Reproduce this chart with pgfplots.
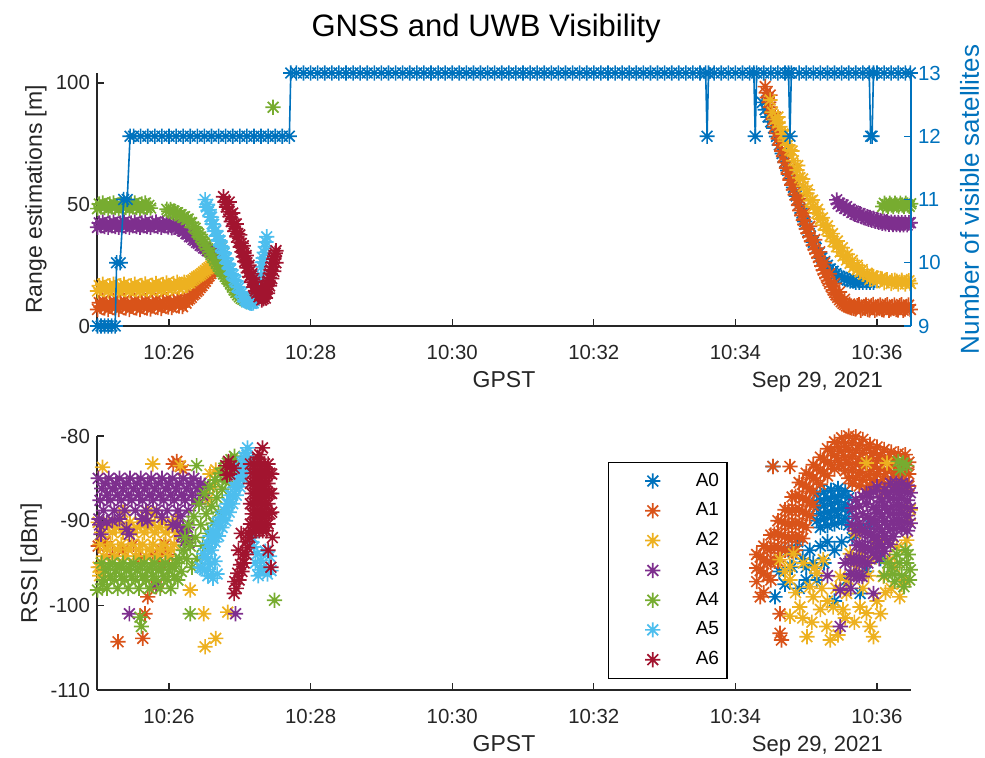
\documentclass[border=0pt]{standalone}
\usepackage{pgfplots}
\pgfplotsset{compat=1.18}
\usepackage{fontspec}
\setmainfont{Liberation Sans}
\definecolor{c0}{RGB}{0,114,189}
\definecolor{c1}{RGB}{217,83,25}
\definecolor{c2}{RGB}{237,177,32}
\definecolor{c3}{RGB}{126,47,142}
\definecolor{c4}{RGB}{119,172,48}
\definecolor{c5}{RGB}{77,190,238}
\definecolor{c6}{RGB}{162,20,47}
\definecolor{axc}{RGB}{38,38,38}
\pgfdeclareplotmark{mstar}{%
  \pgfpathmoveto{\pgfqpoint{-\pgfplotmarksize}{0pt}}%
  \pgfpathlineto{\pgfqpoint{\pgfplotmarksize}{0pt}}%
  \pgfpathmoveto{\pgfqpoint{0pt}{-\pgfplotmarksize}}%
  \pgfpathlineto{\pgfqpoint{0pt}{\pgfplotmarksize}}%
  \pgfpathmoveto{\pgfqpoint{-0.7071\pgfplotmarksize}{-0.7071\pgfplotmarksize}}%
  \pgfpathlineto{\pgfqpoint{0.7071\pgfplotmarksize}{0.7071\pgfplotmarksize}}%
  \pgfpathmoveto{\pgfqpoint{-0.7071\pgfplotmarksize}{0.7071\pgfplotmarksize}}%
  \pgfpathlineto{\pgfqpoint{0.7071\pgfplotmarksize}{-0.7071\pgfplotmarksize}}%
  \pgfusepathqstroke}
\pgfplotsset{
  ser/.style={only marks, mark=mstar, mark size=3.8pt, line width=0.85pt, color=#1,
    legend image code/.code={\path[draw=none,fill=none] (0pt,-3pt) rectangle (39.5pt,3pt); \draw[##1] plot coordinates {(18pt,0pt)};}},
  base/.style={scale only axis, width=407pt, clip=false, xmin=24.983, xmax=36.48,
    tick align=inside, major tick length=3.5pt,
    axis line style={axc, line width=0.6pt}, tick style={axc, line width=0.6pt},
    every tick label/.append style={font=\fontsize{10.2}{12}\selectfont, text=axc},
    label style={font=\fontsize{11.5}{13}\selectfont, text=axc}},
}
\begin{document}
\begin{tikzpicture}
\useasboundingbox (-48.5pt,-216pt) rectangle (444pt,163pt);
% ---------------- top axis (left: range) ----------------
\begin{axis}[base, at={(0pt,0pt)}, anchor=south west, height=126.5pt, ymin=0, ymax=104.1,
  axis x line*=bottom, axis y line*=left,
  xtick={26,28,30,32,34,36}, xticklabels={10:26,10:28,10:30,10:32,10:34,10:36},
  xticklabel style={anchor=base, yshift=-17pt},
  ytick={0,50,100}, yticklabels={0,50,100},
  xlabel={GPST}, xlabel style={at={(axis description cs:0.5,0)}, anchor=base, yshift=-31pt},
  ylabel={Range estimations [m]}, ylabel style={at={(axis description cs:-0.0676,0.5)}, anchor=base},
  title={GNSS and UWB Visibility}, title style={at={(0.478,1)}, anchor=base, yshift=12pt, font=\fontsize{15.5}{18}\selectfont, text=black}]
\addplot[ser=c0] coordinates {(34.38,92)(34.42,89)(34.46,86)(34.50,84)(34.54,81.5)(34.58,78)(34.62,74.5)(34.66,71)(34.70,67.5)(34.74,64)(34.78,60.5)(34.82,57)(34.86,53.5)(34.90,50)(34.94,46.5)(34.98,43)(35.02,40)(35.06,37)(35.10,34.5)(35.14,32)(35.18,30)(35.22,28)(35.26,26.5)(35.30,25)(35.34,23.5)(35.38,22.5)(35.42,21.5)(35.46,20.5)(35.50,20)(35.54,19.5)(35.58,19)(35.62,18.5)(35.66,18.5)(35.70,18)(35.75,18)(35.80,18)(35.85,18)(35.90,18)(35.95,18)};
\addplot[ser=c1] coordinates {(24.990,6.8)(25.015,9.6)(25.040,8.0)(25.065,10.4)(25.090,7.4)(25.115,9.0)(25.140,6.8)(25.165,9.6)(25.190,8.0)(25.215,10.4)(25.240,7.4)(25.265,9.0)(25.290,6.8)(25.315,9.6)(25.340,8.0)(25.365,10.4)(25.390,7.4)(25.415,9.0)(25.440,6.8)(25.465,9.6)(25.490,8.0)(25.515,10.4)(25.540,7.4)(25.565,9.0)(25.590,6.8)(25.615,9.6)(25.640,8.0)(25.665,10.4)(25.690,7.4)(25.715,9.0)(25.740,7.0)(25.765,9.8)(25.790,8.2)(25.815,10.6)(25.840,7.6)(25.865,9.2)(25.890,7.2)(25.915,10.0)(25.940,8.4)(25.965,10.8)(25.990,7.8)(26.015,9.4)(26.040,7.6)(26.065,10.4)(26.090,8.8)(26.115,11.0)(26.140,8.2)(26.165,9.8)(26.190,8.0)(26.215,11.0)(26.240,9.4)
(26.265,10.6)(26.29,11.2)(26.315,11.8)(26.34,12.8)(26.365,13.4)(26.39,14.2)(26.415,14.8)(26.44,15.8)(26.465,16.6)(26.49,17.6)(26.515,18.4)(26.54,19.6)(26.565,20.6)(26.59,21.6)(26.615,22.8)(26.64,24.0)(26.665,25.4)(26.69,27.0)(26.715,28.6)
(34.42,98.5)(34.45,94)(34.49,90)(34.53,85)(34.58,79.3)(34.63,74.5)(34.68,69.7)(34.72,65)(34.77,60.1)(34.82,56)(34.87,51.9)(34.91,47.5)(34.96,43.6)(35.00,40)(35.05,36.7)(35.10,33.2)(35.15,29.9)(35.20,26.5)(35.24,23)(35.29,20)(35.33,17.5)(35.38,14.8)(35.42,12.8)(35.47,10.8)(35.52,9.3)(35.57,8.3)(35.62,7.6)(35.67,7.3)
(34.435,96)(34.47,92)(34.51,87.5)(34.555,82)(34.605,77)(34.655,72)(34.70,67.3)(34.745,62.5)(34.795,58)(34.845,54)(34.89,49.7)(34.935,45.5)(34.98,41.8)(35.025,38.3)(35.075,35)(35.125,31.5)(35.175,28.2)(35.22,24.7)(35.265,21.5)(35.31,18.7)(35.355,16.2)(35.40,13.8)(35.445,11.8)(35.495,10)(35.545,8.8)(35.595,7.9)(35.645,7.4)
(34.49,95)(34.56,86)(34.63,78)(34.70,71)(34.77,64.5)(34.84,58.5)(34.91,52.5)(34.98,46.5)(35.05,41)(35.12,35.5)(35.19,30.5)(35.26,26)(35.33,21.5)(35.40,17.5)(35.47,14)(35.54,11)(35.61,9)(35.68,8)
(35.72,8.3)(35.695,7.0)(35.745,8.8)(35.77,6.5)(35.795,7.2)(35.82,7.8)(35.845,8.6)(35.87,6.8)(35.895,6.6)(35.92,8.3)(35.945,8.9)(35.97,6.5)(35.995,7.0)(36.02,7.8)(36.045,8.6)(36.07,6.8)(36.095,6.6)(36.12,8.3)(36.145,8.8)(36.17,6.5)(36.195,7.0)(36.22,7.8)(36.245,8.6)(36.27,6.8)(36.295,6.6)(36.32,8.3)(36.345,8.8)(36.37,6.5)(36.395,7.0)(36.42,7.8)(36.445,8.6)(36.47,6.8)};
\addplot[ser=c2] coordinates {(24.990,14.4)(25.015,16.6)(25.040,15.4)(25.065,17.2)(25.090,14.9)(25.115,16.0)(25.140,14.4)(25.165,16.6)(25.190,15.4)(25.215,17.2)(25.240,14.9)(25.265,16.0)(25.290,14.4)(25.315,16.6)(25.340,15.4)(25.365,17.2)(25.390,14.9)(25.415,16.0)(25.440,14.4)(25.465,16.6)(25.490,15.4)(25.515,17.2)(25.540,14.9)(25.565,16.0)(25.590,14.5)(25.615,16.7)(25.640,15.5)(25.665,17.3)(25.690,15.0)(25.715,16.1)(25.740,14.6)(25.765,16.8)(25.790,15.7)(25.815,17.5)(25.840,15.2)(25.865,16.3)(25.890,14.9)(25.915,17.1)(25.940,15.9)(25.965,17.7)(25.990,15.5)(26.015,16.6)(26.040,15.3)(26.065,17.5)(26.090,16.3)(26.115,18.0)(26.140,15.8)(26.165,17.0)(26.190,16.0)(26.215,18.0)(26.240,16.8)
(26.265,17.6)(26.29,17.8)(26.315,18.6)(26.34,19.0)(26.365,19.6)(26.39,20.2)(26.415,20.6)(26.44,21.0)(26.465,21.6)(26.49,22.2)(26.515,22.8)(26.54,23.5)(26.565,24.0)(26.59,24.6)(26.615,25.2)(26.64,26.0)(26.665,27.2)(26.69,28.8)(26.715,30.5)(26.73,32)
(34.49,93)(34.52,88)(34.56,85)(34.60,83.5)(34.63,82)(34.67,79)(34.70,76)(34.74,74.5)(34.77,72.4)(34.82,68)(34.87,64.2)(34.91,61)(34.96,57.5)(35.01,54.6)(35.06,51.5)(35.10,49)(35.15,46.4)(35.20,44)(35.24,41.5)(35.29,39.5)(35.34,37)(35.38,34.8)(35.43,32.6)(35.48,30.5)(35.52,28.8)(35.57,27.2)(35.62,25.8)(35.67,24.3)(35.72,23.2)(35.76,22.3)(35.81,21.3)(35.86,20.5)(35.90,19.2)(35.95,20.4)(36.00,18.6)(36.05,19.6)(36.10,17.8)(36.14,19.0)(36.20,17.5)(36.25,18.8)(36.30,17.3)(36.35,18.8)(36.40,17.3)(36.45,18.6)(36.47,17.5)
(34.60,86)(34.70,79)(34.80,72)(34.88,66)(34.95,60.5)(35.02,56)(35.09,51.8)(35.16,48)(35.23,44.5)(35.30,41.2)(35.37,38)(35.44,35)(35.51,32.2)(35.58,29.5)(35.65,27)(35.72,25)(35.79,23.2)(35.86,21.7)(35.93,20.6)(36.0,19.8)(36.07,19.3)(36.14,18.8)(36.21,18.6)(36.28,18.4)(36.35,18.3)(36.42,18.3)};
\addplot[ser=c3] coordinates {(24.990,40.6)(25.015,42.4)(25.040,41.2)(25.065,42.8)(25.090,40.9)(25.115,41.8)(25.140,40.6)(25.165,42.4)(25.190,41.2)(25.215,42.8)(25.240,40.9)(25.265,41.8)(25.290,40.6)(25.315,42.4)(25.340,41.2)(25.365,42.8)(25.390,40.9)(25.415,41.8)(25.440,40.6)(25.465,42.4)(25.490,41.2)(25.515,42.8)(25.540,40.9)(25.565,41.8)(25.590,40.6)(25.615,42.4)(25.640,41.2)(25.665,42.8)(25.690,40.9)(25.715,41.8)(25.740,40.6)(25.765,42.4)(25.790,41.2)(25.815,42.8)(25.840,40.9)(25.865,41.8)(25.890,40.6)(25.915,42.4)(25.940,41.2)(25.965,42.6)(25.990,40.7)(26.015,41.6)(26.040,40.4)(26.065,41.8)(26.090,40.6)(26.115,40.9)(26.140,39.8)(26.165,40.2)(26.190,39.2)(26.215,39.0)(26.240,38.0)
(26.265,37.8)(26.29,36.8)(26.315,36.6)(26.34,35.6)(26.365,35.2)(26.39,34.4)(26.415,34.0)(26.44,33.2)(26.465,32.9)(26.49,32.1)(26.515,31.8)(26.54,31.0)(26.565,30.8)(26.59,30.2)(26.615,30.0)(26.64,29.5)(26.665,29.3)(26.69,28.8)(26.715,28.5)
(35.43,51.9)(35.47,50.5)(35.52,49.8)(35.57,49.1)(35.62,48)(35.67,47.2)(35.71,46.6)(35.76,46.2)(35.81,45.5)(35.86,45)(35.90,44.6)(35.95,44.3)(36.00,43.8)(36.05,43.4)(36.10,43.1)(36.14,42.9)(36.20,42.7)(36.25,42.6)(36.30,42.6)(36.35,42.5)(36.40,42.5)(36.45,42.5)(36.47,42.5)
(35.45,50.3)(35.495,49.2)(35.545,48.4)(35.595,47.6)(35.645,46.7)(35.69,46.0)(35.735,45.5)(35.785,44.9)(35.835,44.4)(35.88,43.9)(35.925,43.5)(35.975,43.1)(36.025,42.7)(36.075,42.3)(36.12,42.1)(36.17,41.9)(36.225,41.7)(36.275,41.7)(36.325,41.6)(36.375,41.6)(36.425,41.6)};
\addplot[ser=c4] coordinates {(24.990,48.3)(25.015,50.2)(25.040,49.0)(25.065,50.6)(25.090,48.7)(25.115,49.6)(25.140,48.3)(25.165,50.2)(25.190,49.0)(25.215,50.6)(25.240,48.7)(25.265,49.6)(25.290,48.3)(25.315,50.2)(25.340,49.0)(25.365,50.6)(25.390,48.7)(25.415,49.6)(25.440,48.3)(25.465,50.2)(25.490,49.0)(25.515,50.6)(25.540,48.7)(25.565,49.6)(25.590,48.3)(25.615,50.2)(25.640,49.0)(25.665,50.6)(25.690,48.7)(25.715,49.6)(25.740,48.5)
(25.97,48.0)(25.995,47.2)(26.02,47.9)(26.045,46.8)(26.07,47.3)(26.095,46.2)(26.12,46.6)(26.145,45.5)(26.17,45.8)(26.195,44.7)(26.22,45.0)(26.245,43.8)(26.27,44.0)(26.295,42.6)(26.32,42.5)(26.345,40.8)(26.37,40.2)(26.395,38.6)(26.42,37.8)(26.445,36.6)(26.47,35.6)(26.495,34.2)(26.52,33.2)(26.545,31.8)(26.57,30.6)(26.595,29.4)(26.62,28.2)(26.645,27.0)(26.67,25.8)(26.695,24.6)(26.72,23.5)(26.745,22.4)(26.77,21.4)(26.795,20.4)(26.82,19.4)(26.845,18.4)(26.87,17.3)(26.895,16.0)(26.92,14.8)(26.945,13.8)(26.97,12.8)(26.995,12.0)(27.02,11.4)(27.045,11.0)(27.07,10.5)(27.095,10.0)(27.47,90)
(36.08,49.2)(36.105,50.5)(36.13,49.8)(36.155,49.2)(36.18,50.5)(36.205,49.8)(36.23,49.2)(36.255,50.5)(36.28,49.8)(36.305,49.2)(36.33,50.5)(36.355,49.8)(36.38,49.2)(36.405,50.5)(36.43,49.8)(36.455,49.2)(36.475,50.3)};
\addplot[ser=c5] coordinates {(26.51,52)(26.53,49)(26.55,47.5)(26.58,45)(26.61,42)(26.64,39)(26.67,37)(26.70,35.4)(26.73,33)(26.76,30.5)(26.79,28)(26.82,25.8)(26.85,23.5)(26.88,21.5)(26.92,19)(26.96,16.2)(27.00,14)(27.04,12)(27.07,10.8)(27.10,10)(27.14,9.5)(27.17,9.3)(27.19,9.5)(27.22,11.5)(27.24,13)(27.26,14.8)(27.28,18)(27.31,24.4)(27.33,28)(27.36,32.6)(27.38,36.7)
(26.545,50)(26.57,47.8)(26.60,44.8)(26.63,41.8)(26.66,39.2)(26.69,37)(26.72,35)(26.75,32.5)(26.78,30)(26.81,27.8)(26.84,25.5)(26.87,23.2)(26.905,21)(26.945,18.5)(26.985,15.8)(27.025,13.5)(27.06,11.8)(27.09,10.6)(27.125,9.8)(27.155,9.4)(27.205,10.5)(27.23,12.3)(27.25,14)(27.27,16.3)(27.295,21)(27.32,26.2)(27.345,30.3)(27.37,34.6)};
\addplot[ser=c6] coordinates {(26.77,53.2)(26.79,51)(26.81,49)(26.84,47)(26.86,45)(26.88,43)(26.91,41)(26.93,39)(26.96,36.7)(26.98,34.5)(27.01,32.5)(27.03,30.5)(27.05,28.5)(27.07,26.5)(27.10,24)(27.12,22)(27.14,20.3)(27.17,18)(27.20,16)(27.22,14.5)(27.24,13.5)(27.27,12)(27.31,10.7)(27.34,12.5)(27.36,14)(27.38,16.2)(27.40,18.5)(27.43,21.5)(27.45,24.4)(27.48,27.5)(27.50,29.9)
(26.82,50)(26.87,46)(26.92,42)(26.97,38)(27.02,34)(27.06,30)(27.10,26)(27.14,22.5)(27.18,19)(27.22,16.5)(27.26,14)(27.29,12.5)
(26.85,51)(26.90,46.5)(26.95,42)(27.00,37.5)(27.05,33)(27.09,29)(27.13,25)(27.17,21.5)(27.21,18)(27.25,15.5)(27.29,13.5)(27.32,12)
(27.33,11.2)(27.355,13.2)(27.375,15)(27.395,17.3)(27.415,20)(27.44,23)(27.465,26)(27.49,28.7)(27.51,31)(27.36,11.5)(27.39,13.5)(27.42,16.5)(27.45,19.5)(27.48,22.5)(27.51,26)};
\node[anchor=base east, yshift=-31pt, font=\fontsize{11}{13}\selectfont, text=axc] at (rel axis cs:0.974,0) {Sep 29, 2021};
\end{axis}
% ---------------- top axis (right: satellites) ----------------
\begin{axis}[base, at={(0pt,0pt)}, anchor=south west, height=126.5pt, ymin=9, ymax=13,
  axis x line=none, axis y line*=right,
  ytick={9,10,11,12,13}, yticklabels={9,10,11,12,13},
  axis line style={c0, line width=0.6pt}, tick style={c0, line width=0.6pt},
  every tick label/.append style={text=c0},
  ylabel={Number of visible satellites}, ylabel style={at={(axis description cs:1.0835,0.5)}, anchor=base, text=c0, font=\fontsize{13}{15}\selectfont}]
\addplot[c0, mark=mstar, mark size=3.8pt, line width=0.8pt] coordinates {
(24.99,9)(25.04,9)(25.09,9)(25.14,9)(25.19,9)(25.24,9)(25.26,10)(25.31,10)(25.36,11)(25.41,11)(25.45,12)
(25.5,12)(25.6,12)(25.7,12)(25.8,12)(25.9,12)(26.0,12)(26.1,12)(26.2,12)(26.3,12)(26.4,12)(26.5,12)(26.6,12)(26.7,12)(26.8,12)(26.9,12)(27.0,12)(27.1,12)(27.2,12)(27.3,12)(27.4,12)(27.5,12)(27.6,12)(27.7,12)
(27.72,13)(27.8,13)(27.9,13)(28.0,13)(28.1,13)(28.2,13)(28.3,13)(28.4,13)(28.5,13)(28.6,13)(28.7,13)(28.8,13)(28.9,13)(29.0,13)(29.1,13)(29.2,13)(29.3,13)(29.4,13)(29.5,13)(29.6,13)(29.7,13)(29.8,13)(29.9,13)(30.0,13)(30.1,13)(30.2,13)(30.3,13)(30.4,13)(30.5,13)(30.6,13)(30.7,13)(30.8,13)(30.9,13)(31.0,13)(31.1,13)(31.2,13)(31.3,13)(31.4,13)(31.5,13)(31.6,13)(31.7,13)(31.8,13)(31.9,13)(32.0,13)(32.1,13)(32.2,13)(32.3,13)(32.4,13)(32.5,13)(32.6,13)(32.7,13)(32.8,13)(32.9,13)(33.0,13)(33.1,13)(33.2,13)(33.3,13)(33.4,13)(33.5,13)(33.58,13)(33.60,12)(33.62,13)
(33.7,13)(33.8,13)(33.9,13)(34.0,13)(34.1,13)(34.2,13)(34.26,13)(34.28,12)(34.30,13)(34.4,13)(34.5,13)(34.6,13)(34.7,13)(34.75,13)(34.77,12)(34.79,13)
(34.9,13)(35.0,13)(35.1,13)(35.2,13)(35.3,13)(35.4,13)(35.5,13)(35.6,13)(35.7,13)(35.8,13)(35.89,13)(35.91,12)(35.93,12)(35.95,13)(36.0,13)(36.1,13)(36.2,13)(36.3,13)(36.4,13)(36.47,13)};
\end{axis}
% ---------------- bottom axis (RSSI) ----------------
\begin{axis}[base, at={(0pt,-182pt)}, anchor=south west, height=127pt, ymin=-110, ymax=-80,
  axis x line*=bottom, axis y line*=left,
  xtick={26,28,30,32,34,36}, xticklabels={10:26,10:28,10:30,10:32,10:34,10:36},
  xticklabel style={anchor=base, yshift=-17pt},
  ytick={-110,-100,-90,-80}, yticklabels={-110,-100,-90,-80},
  xlabel={GPST}, xlabel style={at={(axis description cs:0.5,0)}, anchor=base, yshift=-31pt},
  ylabel={RSSI [dBm]}, ylabel style={at={(axis description cs:-0.0737,0.5)}, anchor=base},
  legend cell align=left,
  legend style={at={(0.628,0.898)}, anchor=north west, draw=black, line width=0.6pt, fill=white,
    inner xsep=4pt, inner ysep=5.2pt, row sep=6.8pt, font=\fontsize{9.5}{11}\selectfont, nodes={inner sep=0pt}}]
\addplot[ser=c0] coordinates {(34.53,-83.6)(34.56,-99.0)(34.62,-96.0)(34.70,-97.5)(34.75,-93.5)(34.80,-95.5)(34.85,-93.5)(34.88,-92.5)(34.95,-94.5)(35.00,-97.0)(35.00,-95.5)(35.05,-93.5)(35.10,-95.0)(35.20,-93.0)(35.30,-92.5)(35.40,-93.5)(35.50,-92.5)(35.65,-92.0)(35.75,-91.0)
(35.15,-86.8)(35.15,-88.4)(35.15,-90.0)(35.20,-87.6)(35.20,-89.2)(35.20,-90.8)(35.25,-86.6)(35.25,-88.2)(35.25,-89.8)(35.30,-87.4)(35.30,-89.0)(35.30,-90.6)(35.35,-86.4)(35.35,-88.0)(35.35,-89.6)(35.40,-87.2)(35.40,-88.8)(35.40,-90.4)(35.45,-86.2)(35.45,-87.8)(35.45,-89.4)(35.50,-87.0)(35.50,-88.6)(35.50,-90.2)(35.55,-86.5)(35.55,-88.1)(35.55,-89.7)(35.60,-87.3)(35.60,-88.9)(35.60,-90.5)
(35.25,-95.0)(35.40,-99.5)(35.57,-97.0)(35.76,-98.6)(35.85,-96.0)(35.90,-90.5)(35.98,-92.5)(36.05,-94.5)(34.90,-98.0)(35.15,-97.0)};
\addlegendentry{A0}
\addplot[ser=c1] coordinates {(25.00,-93.0)(25.03,-95.5)(25.10,-92.5)(25.20,-94.0)(25.28,-104.3)(25.35,-93.5)(25.50,-92.8)(25.60,-94.5)(25.63,-103.9)(25.66,-101.0)(25.70,-99.0)(25.77,-94.0)(25.82,-97.8)(25.88,-95.0)(25.90,-93.5)(25.95,-92.8)(26.00,-94.0)(26.06,-83.3)(26.11,-83.0)(26.16,-83.6)(26.20,-84.0)
(34.30,-94.0)(34.30,-95.6)(34.30,-97.2)(34.35,-94.3)(34.35,-95.9)(34.40,-93.0)(34.40,-94.6)(34.40,-96.2)(34.45,-93.3)(34.45,-94.9)(34.45,-96.5)(34.50,-91.7)(34.50,-93.3)(34.50,-94.9)(34.55,-91.6)(34.55,-93.2)(34.55,-94.8)(34.60,-90.0)(34.60,-91.6)(34.60,-93.2)(34.60,-94.8)(34.65,-90.1)(34.65,-91.7)(34.65,-93.3)(34.70,-88.7)(34.70,-90.3)(34.70,-91.9)(34.70,-93.5)(34.75,-88.8)(34.75,-90.4)(34.75,-92.0)(34.80,-87.2)(34.80,-88.8)(34.80,-90.4)(34.80,-92.0)(34.80,-93.6)(34.85,-87.1)(34.85,-88.7)(34.85,-90.3)(34.85,-91.9)(34.85,-93.5)(34.90,-85.5)(34.90,-87.1)(34.90,-88.7)(34.90,-90.3)(34.90,-91.9)(34.95,-85.7)(34.95,-87.3)(34.95,-88.9)(34.95,-90.5)(34.95,-92.1)(35.00,-84.4)(35.00,-86.0)(35.00,-87.6)(35.00,-89.2)(35.00,-90.8)(35.05,-84.6)(35.05,-86.2)(35.05,-87.8)(35.05,-89.4)(35.10,-83.4)(35.10,-85.0)(35.10,-86.6)(35.10,-88.2)(35.15,-83.7)(35.15,-85.3)(35.20,-82.5)(35.20,-84.1)(35.20,-85.7)(35.25,-82.8)(35.25,-84.4)(35.30,-81.5)(35.30,-83.1)(35.30,-84.7)(35.35,-81.8)(35.35,-83.4)(35.40,-80.7)(35.40,-82.3)(35.40,-83.9)(35.45,-81.3)(35.45,-82.9)(35.50,-80.2)(35.50,-81.8)(35.50,-83.4)(35.55,-80.9)(35.55,-82.5)(35.55,-84.1)(35.60,-80.0)(35.60,-81.6)(35.60,-83.2)(35.65,-80.8)(35.65,-82.4)(35.65,-84.0)(35.70,-80.1)(35.70,-81.7)(35.70,-83.3)(35.75,-81.1)(35.75,-82.7)(35.80,-80.4)(35.80,-82.0)(35.80,-83.6)(35.85,-81.5)(35.85,-83.1)(35.90,-81.0)(35.90,-82.6)(35.90,-84.2)(35.95,-82.0)(35.95,-83.6)(36.00,-81.3)(36.00,-82.9)(36.05,-82.3)(36.05,-83.9)(36.10,-81.6)(36.10,-83.2)(36.15,-82.5)(36.15,-84.1)(36.20,-81.9)(36.20,-83.5)(36.25,-82.8)(36.25,-84.4)(36.30,-82.1)(36.30,-83.7)(36.35,-83.0)(36.40,-82.2)(36.40,-83.8)(36.45,-83.1)(36.45,-84.5)
(35.60,-85.0)(35.65,-85.6)(35.70,-84.9)(35.75,-84.3)(35.75,-85.9)(35.80,-85.2)(35.85,-84.7)(35.85,-86.3)(35.90,-85.8)(35.95,-85.2)(36.00,-84.5)(36.00,-86.1)(36.05,-85.5)(36.10,-84.8)(36.10,-86.4)(36.15,-85.7)(36.20,-85.1)(36.25,-85.9)(36.30,-85.3)(36.35,-84.6)(36.35,-86.2)(36.40,-85.4)(36.45,-85.9)
(34.53,-83.6)(34.77,-83.6)(34.63,-101.0)(34.63,-103.3)(34.65,-104.1)(34.40,-98.5)(34.35,-99.0)(34.50,-97.0)};
\addlegendentry{A1}
\addplot[ser=c2] coordinates {(25.000,-90.2)(25.025,-92.8)(25.050,-91.4)(25.075,-94.2)(25.100,-90.8)(25.125,-93.4)(25.150,-90.2)(25.175,-92.8)(25.200,-91.4)(25.225,-94.2)(25.250,-90.8)(25.275,-93.4)(25.300,-90.2)(25.325,-92.8)(25.350,-91.4)(25.375,-94.2)(25.400,-90.8)(25.425,-93.4)(25.450,-90.2)(25.475,-92.8)(25.500,-91.4)(25.525,-94.2)(25.550,-90.8)(25.575,-93.4)(25.600,-90.2)(25.625,-92.8)(25.650,-91.4)(25.675,-94.2)(25.700,-90.8)(25.725,-93.4)(25.750,-90.2)(25.775,-92.8)(25.800,-91.4)(25.825,-94.2)(25.850,-90.8)(25.875,-93.4)(25.900,-90.2)(25.925,-92.8)(25.950,-91.4)(25.975,-94.2)(26.000,-90.8)(26.025,-93.4)(26.050,-90.2)(26.075,-92.8)(26.100,-91.4)
(25.00,-95.5)(25.02,-96.5)(25.04,-95.0)(25.06,-96.2)(25.06,-83.7)(25.35,-89.0)(25.70,-89.0)(25.77,-83.3)(25.80,-89.2)(26.10,-90.0)(26.16,-83.5)(26.30,-98.2)(26.49,-101.0)(26.51,-104.9)(26.55,-87.5)(26.58,-84.5)(26.62,-86.0)(26.66,-84.0)(26.66,-103.9)(26.83,-100.8)
(34.63,-94.6)(34.77,-95.4)(34.82,-93.9)(34.96,-95.0)(34.77,-97.0)(35.05,-97.8)(34.91,-100.2)(34.77,-101.3)(35.01,-103.7)(35.29,-102.5)(35.34,-104.1)(35.38,-100.2)(35.48,-96.6)(35.57,-98.6)(35.24,-94.6)(35.71,-95.4)(35.76,-100.2)(35.85,-100.9)(35.90,-102.5)(35.95,-103.7)(35.76,-93.9)(36.09,-96.6)(36.18,-94.6)(36.28,-93.1)(36.42,-92.3)(36.44,-89.9)(36.47,-88.7)(35.85,-83.2)(36.14,-83.2)(35.62,-93.9)(35.15,-96.2)(35.10,-99.0)(35.20,-100.5)(35.55,-101.5)(36.00,-99.5)(36.20,-98.0)(36.35,-97.5)
(34.70,-96.0)(34.85,-98.5)(34.95,-101.5)(35.08,-102.0)(35.12,-95.5)(35.22,-98.0)(35.30,-99.5)(35.42,-98.0)(35.45,-103.5)(35.52,-100.5)(35.60,-97.0)(35.68,-102.0)(35.80,-98.0)(35.88,-96.5)(36.05,-101.0)(36.12,-98.5)(36.25,-95.5)(36.32,-99.0)(36.40,-97.0)(35.92,-94.5)(36.00,-92.5)(35.70,-91.5)};
\addlegendentry{A2}
\addplot[ser=c3] coordinates {(25.000,-85.0)(25.025,-87.6)(25.050,-86.2)(25.075,-88.8)(25.100,-85.6)(25.125,-87.0)(25.150,-85.0)(25.175,-87.6)(25.200,-86.2)(25.225,-88.8)(25.250,-85.6)(25.275,-87.0)(25.300,-85.0)(25.325,-87.6)(25.350,-86.2)(25.375,-88.8)(25.400,-85.6)(25.425,-87.0)(25.450,-85.0)(25.475,-87.6)(25.500,-86.2)(25.525,-88.8)(25.550,-85.6)(25.575,-87.0)(25.600,-85.0)(25.625,-87.6)(25.650,-86.2)(25.675,-88.8)(25.700,-85.6)(25.725,-87.0)(25.750,-85.0)(25.775,-87.6)(25.800,-86.2)(25.825,-88.8)(25.850,-85.6)(25.875,-87.0)(25.900,-85.0)(25.925,-87.6)(25.950,-86.2)(25.975,-88.8)(26.000,-85.6)(26.025,-87.0)(26.050,-85.0)(26.075,-87.6)(26.100,-86.2)(26.125,-88.8)(26.150,-85.6)(26.175,-87.0)(26.200,-85.0)(26.225,-87.6)(26.250,-86.2)(26.275,-88.8)(26.300,-85.6)(26.325,-87.0)(26.350,-85.0)(26.375,-87.6)(26.400,-86.2)(26.425,-88.0)(26.450,-85.6)(26.475,-87.0)(26.500,-85.8)
(25.01,-89.8)(25.02,-90.5)(25.04,-91.6)(25.12,-90.2)(25.20,-90.0)(25.30,-89.8)(25.40,-91.0)(25.44,-91.6)(25.62,-89.8)(25.70,-90.0)(25.90,-89.6)(26.05,-90.5)(26.12,-90.5)(26.16,-89.5)(26.18,-91.8)(26.20,-90.8)(26.22,-92.5)(26.24,-91.8)(26.26,-90.8)(26.28,-92.6)(25.44,-101.0)(25.82,-97.5)(26.94,-101.0)
(35.65,-88.5)(35.65,-90.5)(35.70,-87.5)(35.70,-89.5)(35.70,-91.2)(35.75,-88.3)(35.75,-90.3)(35.80,-87.2)(35.80,-89.2)(35.85,-86.8)(35.85,-88.0)(35.90,-87.2)(35.95,-86.6)(36.00,-86.0)
(35.63,-94.5)(35.63,-96.3)(35.63,-98.0)(35.67,-94.6)(35.67,-96.4)(35.71,-92.9)(35.71,-94.7)(35.71,-96.5)(35.75,-92.9)(35.75,-94.7)(35.75,-96.5)(35.79,-91.2)(35.79,-93.0)(35.79,-94.8)(35.79,-96.6)(35.83,-91.3)(35.83,-93.1)(35.83,-94.9)(35.87,-89.6)(35.87,-91.4)(35.87,-93.2)(35.87,-95.0)(35.91,-89.8)(35.91,-91.6)(35.91,-93.4)(35.95,-88.4)(35.95,-90.2)(35.95,-92.0)(35.95,-93.8)(35.99,-88.7)(35.99,-90.5)(35.99,-92.3)(35.99,-94.1)(36.03,-87.3)(36.03,-89.1)(36.03,-90.9)(36.03,-92.7)(36.03,-94.5)(36.07,-87.7)(36.07,-89.5)(36.07,-91.3)(36.07,-93.1)(36.11,-86.4)(36.11,-88.2)(36.11,-90.0)(36.11,-91.8)(36.11,-93.6)(36.15,-86.9)(36.15,-88.7)(36.15,-90.5)(36.15,-92.3)(36.19,-85.6)(36.19,-87.4)(36.19,-89.2)(36.19,-91.0)(36.19,-92.8)(36.23,-86.5)(36.23,-88.3)(36.23,-90.1)(36.23,-91.9)(36.27,-85.6)(36.27,-87.4)(36.27,-89.2)(36.27,-91.0)(36.31,-86.5)(36.31,-88.3)(36.31,-90.1)(36.35,-85.6)(36.35,-87.4)(36.35,-89.2)(36.35,-91.0)(36.39,-86.6)(36.39,-88.4)(36.39,-90.2)(36.43,-85.8)(36.43,-87.6)(36.43,-89.4)(36.43,-91.2)(36.47,-86.7)(36.47,-88.5)(36.47,-90.3)
(35.48,-102.5)(35.95,-98.6)(35.48,-98.2)(35.30,-96.5)(35.55,-95.0)};
\addlegendentry{A3}
\addplot[ser=c4] coordinates {(25.050,-95.0)(25.075,-97.0)(25.100,-95.8)(25.125,-98.0)(25.150,-95.4)(25.175,-96.6)(25.200,-95.0)(25.225,-97.0)(25.250,-95.8)(25.275,-98.0)(25.300,-95.4)(25.325,-96.6)(25.350,-95.0)(25.375,-97.0)(25.400,-95.8)(25.425,-98.0)(25.450,-95.4)(25.475,-96.6)(25.500,-95.0)(25.525,-97.0)(25.550,-95.8)(25.575,-98.0)(25.600,-95.4)(25.625,-96.6)(25.650,-95.0)(25.675,-97.0)(25.700,-95.8)(25.725,-98.0)(25.750,-95.4)(25.775,-96.6)(25.800,-95.0)(25.825,-97.0)(25.850,-95.8)(25.875,-98.0)(25.900,-95.4)(25.925,-96.6)(25.950,-95.0)(25.975,-97.0)(26.000,-95.8)(26.025,-98.0)(26.050,-95.4)(26.075,-96.6)(26.100,-95.0)(26.125,-97.0)(26.150,-94.5)(26.175,-96.0)(26.200,-93.5)
(26.225,-92.0)(26.25,-94.5)(26.275,-90.5)(26.30,-93.0)(26.325,-95.5)(26.35,-89.5)(26.375,-92.0)(26.40,-94.5)(26.425,-88.0)(26.45,-90.5)(26.475,-93.0)(26.50,-86.8)(26.525,-89.2)(26.55,-91.5)(26.575,-86.0)(26.60,-88.3)(26.625,-90.3)(26.65,-85.2)(26.675,-87.3)(26.70,-89.0)(26.725,-84.4)(26.75,-86.3)(26.775,-83.8)(26.80,-85.4)(26.825,-83.2)(26.85,-84.6)(26.875,-82.8)(26.90,-84.0)(26.925,-82.4)(26.95,-83.3)
(24.99,-98.2)(25.06,-97.5)(25.59,-101.4)(25.61,-102.5)(26.30,-101.0)(26.39,-83.5)(27.49,-99.4)
(36.30,-83.0)(36.37,-83.2)(36.33,-84.0)(36.42,-83.5)(36.10,-96.5)(36.15,-95.0)(36.20,-95.5)(36.22,-96.3)(36.25,-97.2)(36.28,-94.0)(36.32,-95.0)(36.35,-96.5)(36.38,-97.8)(36.40,-93.5)(36.42,-95.0)(36.44,-94.0)(36.46,-97.0)(36.47,-95.8)};
\addlegendentry{A4}
\addplot[ser=c5] coordinates {(26.44,-95.5)(26.49,-93.9)(26.54,-92.7)(26.58,-91.8)(26.63,-91.2)(26.68,-90.3)(26.73,-89.6)(26.78,-88.8)(26.82,-88.0)(26.87,-87.0)(26.92,-86.1)(26.96,-85.1)(27.01,-84.1)(27.04,-83.3)(27.06,-82.5)(27.09,-82.0)(27.11,-81.4)
(26.50,-95.8)(26.55,-94.5)(26.60,-93.5)(26.65,-92.5)(26.70,-91.8)(26.75,-90.8)(26.80,-90.0)(26.85,-89.0)(26.90,-88.0)(26.95,-87.0)(27.00,-86.0)(27.05,-85.0)(27.10,-84.0)(27.13,-83.0)
(26.47,-95.6)(26.52,-94.3)(26.57,-93.1)(26.61,-92.3)(26.66,-91.5)(26.71,-90.6)(26.76,-89.8)(26.80,-89.0)(26.85,-88.0)(26.90,-87.0)(26.94,-86.0)(26.99,-85.0)(27.03,-84.1)(27.07,-83.2)(27.10,-82.3)
(26.55,-96.5)(26.62,-96.8)(26.58,-95.2)(26.65,-94.8)(26.68,-96.3)
(27.16,-92.5)(27.18,-92.0)(27.20,-93.1)(27.22,-95.0)(27.25,-93.9)(27.26,-96.5)(27.28,-95.8)(27.30,-94.7)(27.34,-95.5)(27.36,-93.6)(27.39,-96.3)(27.42,-94.2)(27.44,-95.9)};
\addlegendentry{A5}
\addplot[ser=c6] coordinates {(27.150,-83.3)(27.150,-85.6)(27.150,-88.0)(27.150,-90.4)(27.175,-84.4)(27.175,-86.8)(27.175,-89.2)(27.175,-91.2)(27.200,-83.3)(27.200,-85.6)(27.200,-88.0)(27.200,-90.4)(27.225,-84.4)(27.225,-86.8)(27.225,-89.2)(27.225,-91.2)(27.250,-83.3)(27.250,-85.6)(27.250,-88.0)(27.250,-90.4)(27.275,-84.4)(27.275,-86.8)(27.275,-89.2)(27.275,-91.2)(27.300,-83.3)(27.300,-85.6)(27.300,-88.0)(27.300,-90.4)(27.325,-84.4)(27.325,-86.8)(27.325,-89.2)(27.325,-91.2)(27.350,-83.3)(27.350,-85.6)(27.350,-88.0)(27.350,-90.4)(27.375,-84.4)(27.375,-86.8)(27.375,-89.2)(27.375,-91.2)(27.400,-83.3)(27.400,-85.6)(27.400,-88.0)(27.400,-90.4)(27.425,-84.4)(27.425,-86.8)(27.425,-89.2)(27.450,-84.5)(27.450,-86.8)(27.450,-89.0)
(27.32,-81.4)(27.28,-82.2)(27.25,-82.5)
(27.14,-92.0)(27.12,-91.5)(27.11,-93.2)(27.09,-94.0)(27.08,-92.5)(27.06,-95.0)(27.04,-94.0)(27.03,-96.0)(27.01,-95.2)(26.99,-97.0)(26.97,-96.2)(26.95,-98.0)(26.93,-97.2)(26.92,-98.6)(27.02,-91.5)(26.98,-93.5)
(26.80,-83.5)(26.82,-84.6)(26.84,-83.0)(26.86,-84.5)(26.88,-83.5)(26.92,-83.8)
(27.40,-93.5)(27.44,-95.5)(27.46,-92.0)};
\addlegendentry{A6}
\node[anchor=base east, yshift=-31pt, font=\fontsize{11}{13}\selectfont, text=axc] at (rel axis cs:0.974,0) {Sep 29, 2021};
\end{axis}
\end{tikzpicture}
\end{document}
